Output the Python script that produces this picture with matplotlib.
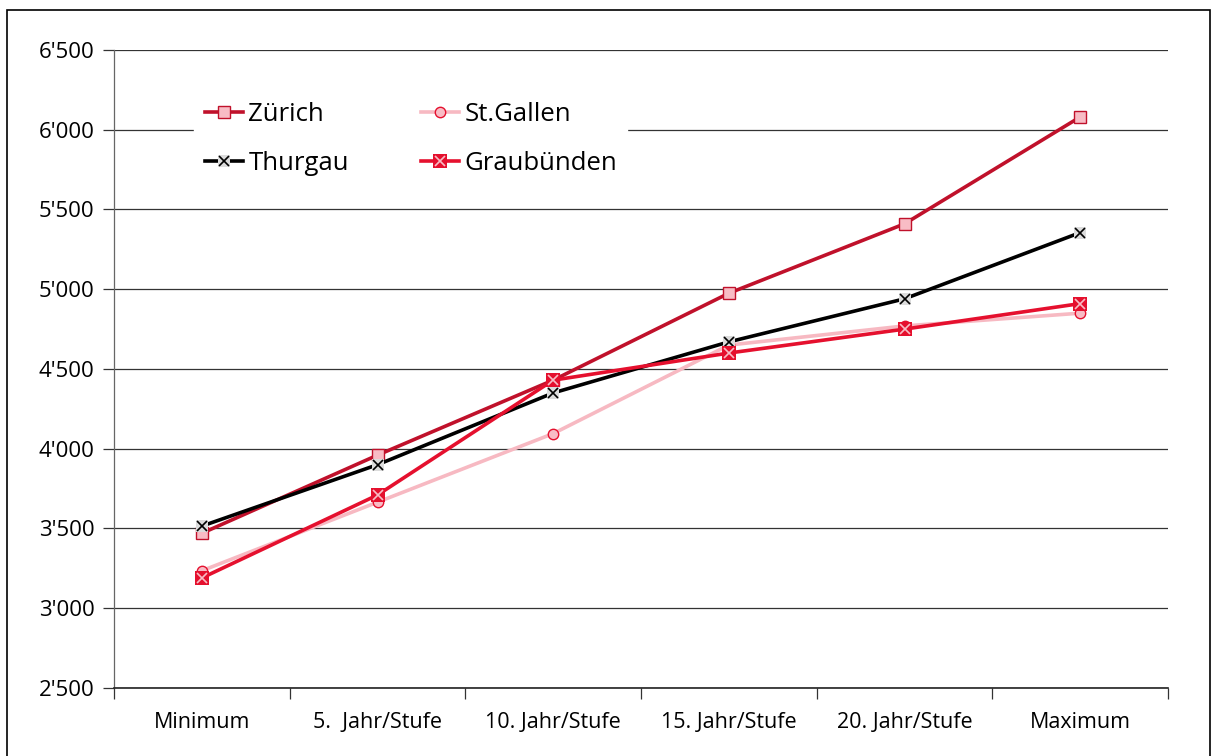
import matplotlib
matplotlib.use("Agg")
import matplotlib.pyplot as plt
from matplotlib.patches import Rectangle
from matplotlib.legend_handler import HandlerTuple
from matplotlib.ticker import FuncFormatter, FixedLocator
import numpy as np

plt.rcParams['font.family'] = ['Open Sans', 'DejaVu Sans']

categories = ["Minimum", "5.  Jahr/Stufe", "10. Jahr/Stufe", "15. Jahr/Stufe", "20. Jahr/Stufe", "Maximum"]
zuerich = [3470, 3960, 4430, 4975, 5410, 6080]
stgallen = [3235, 3665, 4095, 4650, 4770, 4850]
thurgau = [3515, 3900, 4350, 4670, 4940, 5355]
graubuenden = [3190, 3710, 4430, 4600, 4750, 4910]
y_ticks = [2500, 3000, 3500, 4000, 4500, 5000, 5500, 6000, 6500]

W, H = 1213, 756
fig = plt.figure(figsize=(W / 100, H / 100), dpi=100)
ax = fig.add_axes([114 / W, 1 - 688 / H, (1168 - 114) / W, (688 - 50) / H])

x = np.arange(len(categories))

c_zh = "#C0112B"
c_sg = "#F7B9C2"
c_tg = "#000000"
c_gr = "#E5102E"
lw = 2.6

l_zh, = ax.plot(x, zuerich, color=c_zh, lw=lw, marker="s", ms=8,
                mfc="#F8BCC5", mec=c_zh, mew=1.0, zorder=4)
l_sg, = ax.plot(x, stgallen, color=c_sg, lw=lw, marker="o", ms=7.5,
                mfc="#F8BCC5", mec=c_gr, mew=1.0, zorder=3)
l_tg, = ax.plot(x, thurgau, color=c_tg, lw=lw, marker="s", ms=9,
                mfc="#DCDCDC", mec="#DCDCDC", mew=0, zorder=5)
l_tgx, = ax.plot(x, thurgau, ls="none", marker="x", ms=7, mec="black",
                 mew=1.2, zorder=5.1)
l_gr, = ax.plot(x, graubuenden, color=c_gr, lw=lw, marker="s", ms=9.5,
                mfc=c_gr, mec=c_gr, mew=0, zorder=6)
l_grx, = ax.plot(x, graubuenden, ls="none", marker="x", ms=7, mec="#F8BCC5",
                 mew=1.2, zorder=6.1)

ax.set_xlim(-0.5, len(categories) - 0.5)
ax.set_ylim(2500, 6500)
ax.yaxis.set_major_locator(FixedLocator(y_ticks))
ax.yaxis.set_major_formatter(FuncFormatter(lambda v, p: f"{int(v)//1000}'{int(v)%1000:03d}"))
ax.grid(axis="y", color="#333333", lw=0.9)
ax.set_axisbelow(True)

ax.set_xticks(x)
ax.set_xticklabels(categories, fontsize=15.5)
ax.tick_params(axis="x", length=0, pad=17)
ax.set_xticks(np.arange(-0.5, len(categories)), minor=True)
ax.tick_params(axis="x", which="minor", length=8, color="#333333", width=0.9)
ax.tick_params(axis="y", length=8, color="#333333", width=0.9, labelsize=16, pad=6)

for s in ["top", "right"]:
    ax.spines[s].set_visible(False)
ax.spines["left"].set_color("#666666")
ax.spines["left"].set_linewidth(0.9)
ax.spines["bottom"].set_color("#222222")
ax.spines["bottom"].set_linewidth(1.2)

handles = [l_zh, (l_tg, l_tgx), l_sg, (l_gr, l_grx)]
labels = ["Zürich", "Thurgau", "St.Gallen", "Graubünden"]
leg = ax.legend(handles, labels, ncol=2, loc="upper left",
                bbox_to_anchor=(0.064, 0.955), fontsize=18.5,
                frameon=True, fancybox=False, edgecolor="white",
                framealpha=1, handlelength=1.5, handletextpad=0.2,
                columnspacing=2.8, labelspacing=0.95, borderpad=0.4,
                handler_map={tuple: HandlerTuple(ndivide=1, pad=0)})
leg.set_zorder(10)

fig.patches.append(Rectangle((7 / W, -0.05), (1210 - 7) / W, (H - 10) / H + 0.05,
                             transform=fig.transFigure, fill=False,
                             edgecolor="black", lw=1.2))

fig.savefig("out.png", dpi=100)
